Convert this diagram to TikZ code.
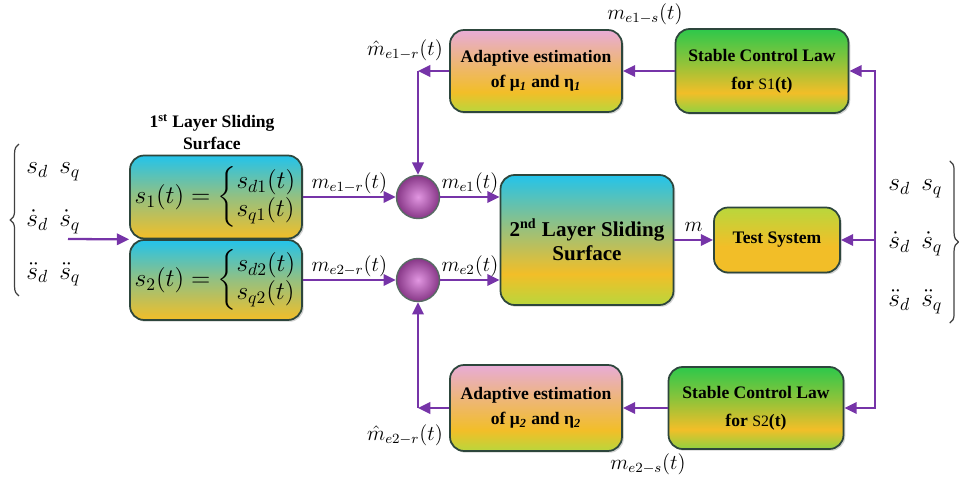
\documentclass[tikz,border=0pt]{standalone}
\usepackage{amsmath}
\usepackage{fontspec}
\setmainfont{Liberation Serif}
\usepackage{tikz}
\usetikzlibrary{positioning, arrows.meta, calc, shadows, decorations.pathreplacing}

\definecolor{flowc}{RGB}{118,52,168}
\definecolor{skyc}{RGB}{35,195,235}
\definecolor{orng}{RGB}{242,190,40}
\definecolor{limec}{RGB}{185,215,60}
\definecolor{pinkc}{RGB}{232,172,215}
\definecolor{grnc}{RGB}{45,200,75}
\definecolor{edgec}{RGB}{45,70,60}
\definecolor{ballin}{RGB}{225,150,225}
\definecolor{ballout}{RGB}{135,55,135}
\colorlet{skyorng}{skyc!45!orng}
\colorlet{pinkorng}{orng!55!pinkc}
\colorlet{grnorng}{grnc!50!orng}
\colorlet{limegrn}{limec!70!grnc}

\pgfdeclareverticalshading{slsurf}{100bp}{color(0bp)=(orng); color(25bp)=(orng); color(50bp)=(skyorng); color(75bp)=(skyc); color(100bp)=(skyc)}
\pgfdeclareverticalshading{layertwo}{100bp}{color(0bp)=(limec); color(25bp)=(limec); color(37bp)=(orng); color(55bp)=(skyorng); color(75bp)=(skyc); color(100bp)=(skyc)}
\pgfdeclareverticalshading{adaptsh}{100bp}{color(0bp)=(limec); color(25bp)=(limec); color(37bp)=(orng); color(55bp)=(pinkorng); color(75bp)=(pinkc); color(100bp)=(pinkc)}
\pgfdeclareverticalshading{stablesh}{100bp}{color(0bp)=(limegrn); color(25bp)=(limegrn); color(37bp)=(orng); color(55bp)=(grnorng); color(75bp)=(grnc); color(100bp)=(grnc)}
\pgfdeclareverticalshading{testsh}{100bp}{color(0bp)=(orng); color(25bp)=(orng); color(45bp)=(orng); color(75bp)=(limec); color(100bp)=(limec)}

\begin{document}
\begin{tikzpicture}[x=0.02cm, y=-0.02cm,
    box/.style={rectangle, rounded corners=8pt, draw=edgec, line width=1pt, align=center, font=\bfseries,
        drop shadow={opacity=0.35, shadow xshift=1pt, shadow yshift=-1pt}},
    flow/.style={draw=flowc, line width=1.3pt, -{Triangle[length=7pt, width=6.5pt]}},
    sumc/.style={circle, draw=edgec!80, line width=0.8pt, minimum size=0.86cm, inner sep=0pt,
        shading=radial, inner color=ballin, outer color=ballout},
    lbl/.style={font=\large, inner sep=1pt},
    bracel/.style={draw=black!75, line width=0.7pt, decorate, decoration={brace, amplitude=5pt}}]
    \useasboundingbox (0,0) rectangle (959,482);

    % sliding surfaces
    \node[font=\bfseries, align=center] (title1) at (212,132) {1\textsuperscript{st} Layer Sliding\\Surface};
    \node[box, shading=slsurf, minimum width=3.44cm, minimum height=1.66cm, inner sep=2pt, font=\fontsize{14}{16}\selectfont] (s1) at (216,197)
        {$s_1(t)=\left\{\begin{array}{@{}l@{}}s_{d1}(t)\\ s_{q1}(t)\end{array}\right.$};
    \node[box, shading=slsurf, minimum width=3.44cm, minimum height=1.6cm, inner sep=2pt, font=\fontsize{14}{16}\selectfont] (s2) at (216,280)
        {$s_2(t)=\left\{\begin{array}{@{}l@{}}s_{d2}(t)\\ s_{q2}(t)\end{array}\right.$};
    \node[sumc] (c1) at (418,197) {};
    \node[sumc] (c2) at (418,280) {};
    \node[box, shading=layertwo, minimum width=3.46cm, minimum height=2.6cm, font=\large\bfseries] (layer2) at (587,240)
        {2\textsuperscript{nd} Layer Sliding\\Surface};
    \node[box, shading=testsh, minimum width=2.52cm, minimum height=1.3cm] (test) at (777,240) {Test System};

    % adaptation loops
    \node[box, shading=adaptsh, minimum width=3.44cm, minimum height=1.64cm] (adapt1) at (536,71)
        {Adaptive estimation\\[2pt]of μ\textsubscript{\textit{1}} and η\textsubscript{\textit{1}}};
    \node[box, shading=stablesh, minimum width=3.46cm, minimum height=1.68cm] (stable1) at (762,71)
        {Stable Control Law\\[4pt]for {\normalfont\small S1}(t)};
    \node[box, shading=adaptsh, minimum width=3.44cm, minimum height=1.72cm] (adapt2) at (536,408)
        {Adaptive estimation\\[2pt]of μ\textsubscript{\textit{2}} and η\textsubscript{\textit{2}}};
    \node[box, shading=stablesh, minimum width=3.5cm, minimum height=1.64cm] (stable2) at (756,408)
        {Stable Control Law\\[4pt]for {\normalfont\small S2}(t)};

    % references
    \node[font=\Large, anchor=west, inner sep=0pt] (refl) at (26,220)
        {$\begin{array}{@{}l@{}} s_d\;\, s_q\\[12pt] \dot s_d\;\, \dot s_q\\[12pt] \ddot s_d\;\, \ddot s_q\end{array}$};
    \node[font=\Large, anchor=west, inner sep=0pt] (refr) at (888,242)
        {$\begin{array}{@{}l@{}} s_d\;\, s_q\\[15pt] \dot s_d\;\, \dot s_q\\[15pt] \ddot s_d\;\, \ddot s_q\end{array}$};
    \draw[bracel] ([xshift=-4pt, yshift=-4pt]refl.south west) -- ([xshift=-4pt, yshift=4pt]refl.north west);
    \draw[bracel] ([xshift=4pt, yshift=4pt]refr.north east) -- ([xshift=4pt, yshift=-4pt]refr.south east);

    \coordinate (in) at (68,239);
    \coordinate (rail) at (875,240);
    \coordinate (r1) at (rail |- stable1.east);
    \coordinate (r3) at (rail |- stable2.east);
    \coordinate (k1) at (c1 |- adapt1.west);
    \coordinate (k2) at (c2 |- adapt2.west);

    % connectors
    \draw[flow] (in) -- (s1.south west);
    \draw[flow] (s1) -- node[lbl, above] (lr1) {$m_{e1-r}(t)$} (c1);
    \draw[flow] (s2) -- node[lbl, above] (lr2) {$m_{e2-r}(t)$} (c2);
    \draw[flow] (c1) -- node[lbl, above] (le1) {$m_{e1}(t)$} (c1 -| layer2.west);
    \draw[flow] (c2) -- node[lbl, above] (le2) {$m_{e2}(t)$} (c2 -| layer2.west);
    \draw[flow] (layer2) -- node[lbl, above=3pt] (lm) {$m$} (test);
    \draw[flowc, line width=1.3pt, line cap=rect] (r1) -- (r3);
    \draw[flow] (r1) -- (stable1);
    \draw[flow] (rail) -- (test);
    \draw[flow] (r3) -- (stable2);
    \draw[flow] (stable1) -- (adapt1);
    \draw[flow] (stable2) -- (adapt2);
    \draw[flow] (adapt1) -- (k1);
    \draw[flow] (k1) -- (c1);
    \draw[flow] (adapt2) -- (k2);
    \draw[flow] (k2) -- (c2);
    \node[lbl] (ls1) at (645,14) {$m_{e1-s}(t)$};
    \node[lbl] (ls2) at (648,464) {$m_{e2-s}(t)$};
    \node[lbl] (lh1) at (405,50) {$\hat m_{e1-r}(t)$};
    \node[lbl] (lh2) at (405,435) {$\hat m_{e2-r}(t)$};
\end{tikzpicture}
\end{document}
